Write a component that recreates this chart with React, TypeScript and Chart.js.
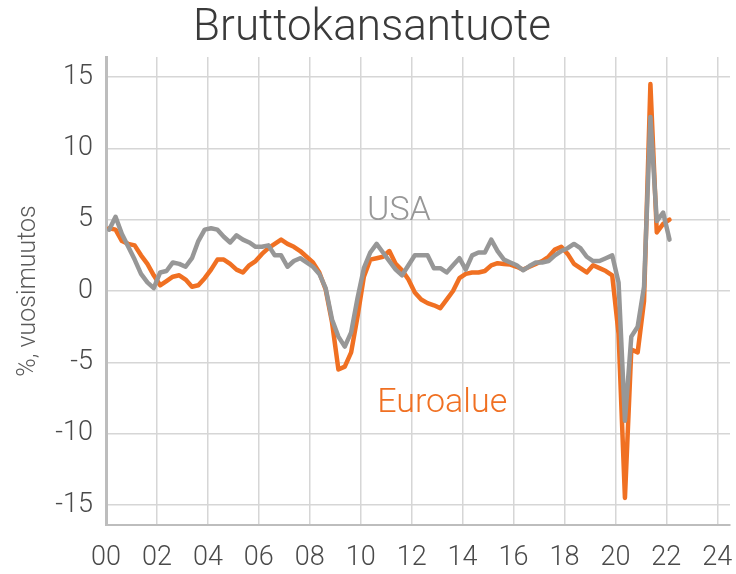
import React, { useEffect, useRef } from "react";
import { Chart, registerables } from "chart.js";

Chart.register(...registerables);

// ---- Data ----
const startYear = 2000;
const titleText = "Bruttokansantuote";
const yAxisTitle = "%, vuosimuutos";

// Quarterly y/y GDP change, 2000Q1 .. 2022Q1
const usa: number[] = [
  4.3, 5.2, 4.0, 3.1,
  2.2, 1.2, 0.6, 0.2,
  1.3, 1.4, 2.0, 1.9,
  1.7, 2.3, 3.5, 4.3,
  4.4, 4.3, 3.8, 3.4,
  3.9, 3.6, 3.4, 3.1,
  3.1, 3.2, 2.5, 2.5,
  1.7, 2.1, 2.3, 2.0,
  1.7, 1.2, 0.2, -2.0,
  -3.2, -3.9, -2.9, -0.5,
  1.6, 2.7, 3.3, 2.7,
  2.1, 1.5, 1.1, 1.8,
  2.5, 2.5, 2.5, 1.6,
  1.6, 1.3, 1.8, 2.3,
  1.5, 2.5, 2.7, 2.7,
  3.6, 2.8, 2.2, 2.0,
  1.8, 1.45, 1.75, 2.0,
  2.0, 2.1, 2.5, 2.8,
  3.0, 3.3, 3.0, 2.4,
  2.1, 2.1, 2.3, 2.5,
  0.6, -9.1, -3.2, -2.5,
  0.3, 12.2, 4.9, 5.5,
  3.6,
];

const euroalue: number[] = [
  4.4, 4.3, 3.5, 3.3,
  3.2, 2.5, 1.9, 1.1,
  0.4, 0.7, 1.0, 1.1,
  0.8, 0.3, 0.4, 0.9,
  1.5, 2.2, 2.2, 1.9,
  1.5, 1.3, 1.8, 2.1,
  2.6, 3.0, 3.3, 3.6,
  3.3, 3.1, 2.8, 2.4,
  2.0, 1.3, 0.1, -2.2,
  -5.5, -5.3, -4.3, -1.8,
  1.0, 2.2, 2.3, 2.4,
  2.8, 1.9, 1.45, 0.8,
  -0.1, -0.6, -0.85, -1.0,
  -1.2, -0.6, 0.0, 0.9,
  1.2, 1.3, 1.3, 1.4,
  1.8, 1.95, 1.9, 1.85,
  1.7, 1.5, 1.7, 1.9,
  2.1, 2.4, 2.9, 3.1,
  2.6, 1.9, 1.6, 1.3,
  1.8, 1.6, 1.4, 1.1,
  -3.0, -14.5, -4.1, -4.3,
  -0.7, 14.5, 4.1, 4.7,
  5.0,
];

const xTickYears = [2000, 2002, 2004, 2006, 2008, 2010, 2012, 2014, 2016, 2018, 2020, 2022, 2024];
const xTickLabels = ["00", "02", "04", "06", "08", "10", "12", "14", "16", "18", "20", "22", "24"];
const yTicks = [-15, -10, -5, 0, 5, 10, 15];

// series labels placed in data coordinates
const usaLabel = { text: "USA", x: 2011.5, y: 5.6 };
const euroLabel = { text: "Euroalue", x: 2013.2, y: -7.9 };

const ORANGE = "#f07022";
const GRAY = "#979797";

function quarterX(i: number): number {
  return startYear + (i + 0.5) / 4;
}

const labelPlugin = {
  id: "seriesLabels",
  afterDatasetsDraw(chart: any) {
    const { ctx, scales } = chart;
    ctx.save();
    ctx.font = "300 34px Roboto";
    ctx.textAlign = "center";
    ctx.textBaseline = "middle";
    ctx.fillStyle = GRAY;
    ctx.fillText(usaLabel.text, scales.x.getPixelForValue(usaLabel.x), scales.y.getPixelForValue(usaLabel.y));
    ctx.fillStyle = ORANGE;
    ctx.fillText(euroLabel.text, scales.x.getPixelForValue(euroLabel.x), scales.y.getPixelForValue(euroLabel.y));
    ctx.restore();
  },
};

export default function App() {
  const ref = useRef<HTMLCanvasElement | null>(null);

  useEffect(() => {
    document.body.style.margin = "0";
    const canvas = ref.current;
    if (!canvas) return;
    Chart.defaults.font.family = "Roboto";

    const chart = new Chart(canvas, {
      type: "line",
      data: {
        datasets: [
          {
            label: "USA",
            data: usa.map((v, i) => ({ x: quarterX(i), y: v })),
            borderColor: GRAY,
            borderWidth: 4.5,
            pointRadius: 0,
            tension: 0,
            borderJoinStyle: "round",
            borderCapStyle: "round",
            order: 0,
          },
          {
            label: "Euroalue",
            data: euroalue.map((v, i) => ({ x: quarterX(i), y: v })),
            borderColor: ORANGE,
            borderWidth: 4.5,
            pointRadius: 0,
            tension: 0,
            borderJoinStyle: "round",
            borderCapStyle: "round",
            order: 1,
          },
        ],
      },
      options: {
        responsive: false,
        animation: false,
        layout: { padding: { left: 14, right: 6, top: 0, bottom: 0 } },
        plugins: {
          legend: { display: false },
          tooltip: { enabled: false },
          title: {
            display: true,
            text: titleText,
            color: "#3a3a3a",
            font: { size: 44, weight: "300" as any, family: "Roboto" },
            padding: { top: 3, bottom: 1.2 },
          },
        },
        scales: {
          x: {
            type: "linear",
            min: 2000,
            max: 2024.5,
            afterBuildTicks: (scale: any) => {
              scale.ticks = xTickYears.map((v) => ({ value: v }));
            },
            afterFit: (scale: any) => {
              scale.height = 49;
              scale.paddingLeft = 0;
              scale.paddingRight = 0;
            },
            ticks: {
              autoSkip: false,
              maxRotation: 0,
              padding: 17,
              color: "#4a4a4a",
              font: { size: 27, weight: "300" as any },
              callback: (_v: any, i: number) => xTickLabels[i],
            },
            grid: { color: "#d6d6d6", lineWidth: 1.5, drawTicks: false },
            border: { display: true, color: "#bdbdbd", width: 2 },
          },
          y: {
            type: "linear",
            min: -16.4,
            max: 16.4,
            afterBuildTicks: (scale: any) => {
              scale.ticks = yTicks.map((v) => ({ value: v }));
            },
            afterFit: (scale: any) => {
              scale.width = 92;
              scale.paddingTop = 0;
              scale.paddingBottom = 0;
            },
            ticks: {
              padding: 13,
              color: "#4a4a4a",
              font: { size: 27, weight: "300" as any },
            },
            grid: { color: "#d6d6d6", lineWidth: 1.5, drawTicks: false },
            border: { display: true, color: "#bdbdbd", width: 3 },
            title: {
              display: true,
              text: yAxisTitle,
              color: "#5a5a5a",
              font: { size: 25, weight: "300" as any },
              padding: { top: 0, bottom: 0 },
            },
          },
        },
      },
      plugins: [labelPlugin],
    });

    return () => chart.destroy();
  }, []);

  return (
    <div style={{ width: 736, height: 574 }}>
      <canvas ref={ref} width={736} height={574} style={{ display: "block" }} />
    </div>
  );
}
